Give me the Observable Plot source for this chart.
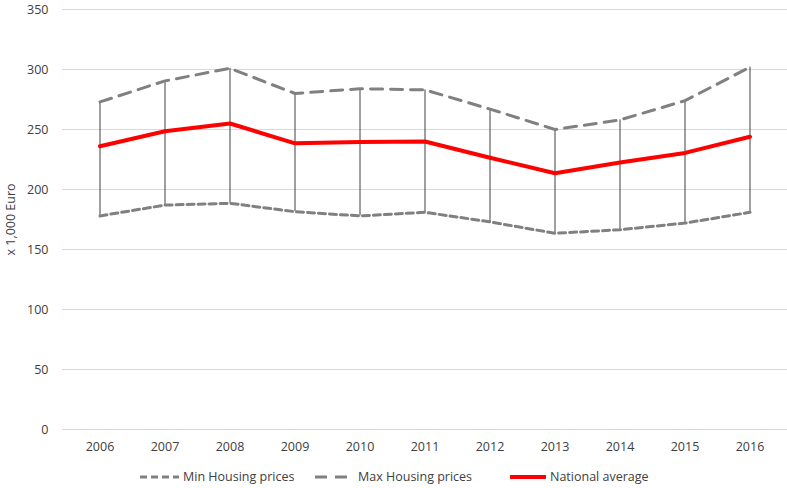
<!DOCTYPE html>
<html>
<head>
<meta charset="utf-8">
<script src="https://cdn.jsdelivr.net/npm/d3@7"></script>
<script src="https://cdn.jsdelivr.net/npm/@observablehq/plot@0.6"></script>
<style>
  html, body { margin: 0; padding: 0; background: #fff; }
  body { width: 787px; height: 488px; overflow: hidden; font-family: "Open Sans", sans-serif; }
  #legend { position: relative; height: 26px; font-size: 12.5px; color: #404040; }
  .item { position: absolute; top: 6px; display: flex; align-items: center; white-space: nowrap; }
  .item svg { margin-right: 4px; }
</style>
</head>
<body>
<div id="chart"></div>
<div id="legend"></div>
<script>
const years = ["2006","2007","2008","2009","2010","2011","2012","2013","2014","2015","2016"];
const minPrices = [178, 187, 188.5, 181.5, 178, 181, 173, 163.5, 166.5, 172, 181];
const maxPrices = [273, 290.5, 301, 280, 284, 283, 267, 250, 258, 274, 302];
const nationalAvg = [236, 248.5, 255, 238.5, 239.5, 240, 226.5, 213.5, 222.5, 230.5, 244];
const yTicks = [0, 50, 100, 150, 200, 250, 300, 350];
const seriesNames = ["Min Housing prices", "Max Housing prices", "National average"];

const rows = years.map((y, i) => ({year: y, min: minPrices[i], max: maxPrices[i], avg: nationalAvg[i]}));

const chart = Plot.plot({
  width: 787,
  height: 462,
  marginTop: 9,
  marginBottom: 33,
  marginLeft: 62,
  marginRight: 0,
  style: {fontFamily: "Open Sans, sans-serif", fontSize: "12.5px", color: "#404040", background: "#fff"},
  x: {domain: years, padding: 0, type: "band"},
  y: {domain: [0, 350]},
  marks: [
    Plot.gridY(yTicks, {stroke: "#d9d9d9", strokeOpacity: 1, strokeWidth: 1}),
    Plot.axisY(yTicks, {tickSize: 0, tickPadding: 14, label: "x 1,000 Euro", labelAnchor: "center", labelArrow: "none", labelOffset: 56, fill: "#404040"}),
    Plot.axisX({tickSize: 0, tickPadding: 13, label: null, fill: "#404040"}),
    Plot.ruleX(rows, {x: "year", y1: "min", y2: "max", stroke: "#404040", strokeWidth: 1}),
    Plot.line(rows, {x: "year", y: "min", stroke: "#808080", strokeWidth: 3, strokeDasharray: "7,4"}),
    Plot.line(rows, {x: "year", y: "max", stroke: "#808080", strokeWidth: 3, strokeDasharray: "12,8"}),
    Plot.line(rows, {x: "year", y: "avg", stroke: "#ff0000", strokeWidth: 4})
  ]
});
document.getElementById("chart").appendChild(chart);

const legendSpecs = [
  {name: seriesNames[0], left: 140, color: "#808080", dash: "7,4", w: 3, len: 39},
  {name: seriesNames[1], left: 315, color: "#808080", dash: "12,8", w: 3, len: 39},
  {name: seriesNames[2], left: 510, color: "#ff0000", dash: null, w: 4, len: 36}
];
const legend = document.getElementById("legend");
legendSpecs.forEach(s => {
  const div = document.createElement("div");
  div.className = "item";
  div.style.left = s.left + "px";
  div.innerHTML = `<svg width="${s.len}" height="10"><line x1="0" x2="${s.len}" y1="5" y2="5" stroke="${s.color}" stroke-width="${s.w}" ${s.dash ? `stroke-dasharray="${s.dash}"` : ""}/></svg><span>${s.name}</span>`;
  legend.appendChild(div);
});
</script>
</body>
</html>
